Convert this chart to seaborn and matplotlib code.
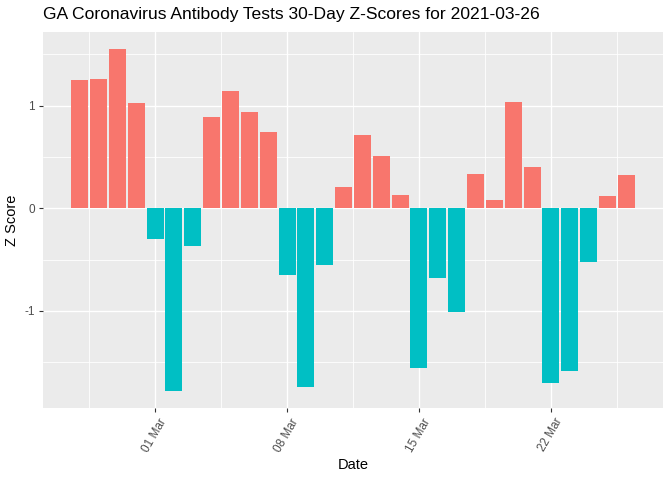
import matplotlib
matplotlib.use("Agg")
import matplotlib.pyplot as plt
import matplotlib.dates as mdates
from matplotlib.ticker import FixedLocator
import seaborn as sns
import pandas as pd
import numpy as np

# 30 days ending 2021-03-26
dates = pd.date_range("2021-02-25", "2021-03-26", freq="D")
z_scores = [1.25, 1.26, 1.55, 1.02, -0.30, -1.78, -0.37, 0.89, 1.14, 0.94,
            0.74, -0.65, -1.74, -0.55, 0.21, 0.71, 0.51, 0.13, -1.56, -0.68,
            -1.01, 0.33, 0.08, 1.03, 0.40, -1.70, -1.59, -0.52, 0.12, 0.32]
y_ticks = [-1, 0, 1]
x_ticks = pd.to_datetime(["2021-03-01", "2021-03-08", "2021-03-15", "2021-03-22"])

df = pd.DataFrame({"Date": mdates.date2num(dates), "Z": z_scores})
df["Sign"] = np.where(df["Z"] > 0, "pos", "neg")

sns.set_theme(style="darkgrid", rc={
    "axes.facecolor": "#EBEBEB",
    "grid.color": "white",
})
plt.rcParams["font.family"] = ["Liberation Sans", "DejaVu Sans"]
plt.rcParams["axes.unicode_minus"] = False

fig = plt.figure(figsize=(6.72, 4.8), dpi=100)
ax = fig.add_axes([43 / 672, 1 - 408 / 480, 620 / 672, 376 / 480])

sns.barplot(data=df, x="Date", y="Z", hue="Sign", native_scale=True,
            palette={"pos": "#F8766D", "neg": "#00BFC4"}, width=0.9,
            dodge=False, saturation=1, legend=False, linewidth=0, ax=ax)

lo = df["Date"].min() - 0.45
hi = df["Date"].max() + 0.45
pad = (hi - lo) * 0.05
ax.set_xlim(lo - pad, hi + pad)
ymin, ymax = min(z_scores), max(z_scores)
ypad = (ymax - ymin) * 0.05
ax.set_ylim(ymin - ypad, ymax + ypad)

xt = mdates.date2num(x_ticks)
ax.xaxis.set_major_locator(FixedLocator(xt))
ax.xaxis.set_minor_locator(FixedLocator(np.concatenate([[xt[0] - 3.5], xt + 3.5])))
ax.xaxis.set_major_formatter(mdates.DateFormatter("%d %b"))
ax.yaxis.set_major_locator(FixedLocator(y_ticks))
ax.yaxis.set_minor_locator(FixedLocator([-1.5, -0.5, 0.5, 1.5]))

ax.grid(which="major", color="white", linewidth=1.0)
ax.grid(which="minor", color="white", linewidth=0.6)
ax.set_axisbelow(True)
for s in ax.spines.values():
    s.set_visible(False)

ax.tick_params(axis="both", which="major", length=3, width=0.8, color="#333333",
               labelcolor="#4D4D4D", labelsize=8.5, pad=3, bottom=True, left=True)
ax.tick_params(axis="both", which="minor", length=0)
plt.setp(ax.get_xticklabels(), rotation=60, ha="center")

ax.set_xlabel("Date", fontsize=10.5, color="black", labelpad=3)
ax.set_ylabel("Z Score", fontsize=10.5, color="black", labelpad=4)
fig.text(43 / 672, 1 - 15 / 480, "GA Coronavirus Antibody Tests 30-Day Z-Scores for 2021-03-26",
         fontsize=12.6, color="black", ha="left", va="center")

fig.savefig("out.png", dpi=100)
